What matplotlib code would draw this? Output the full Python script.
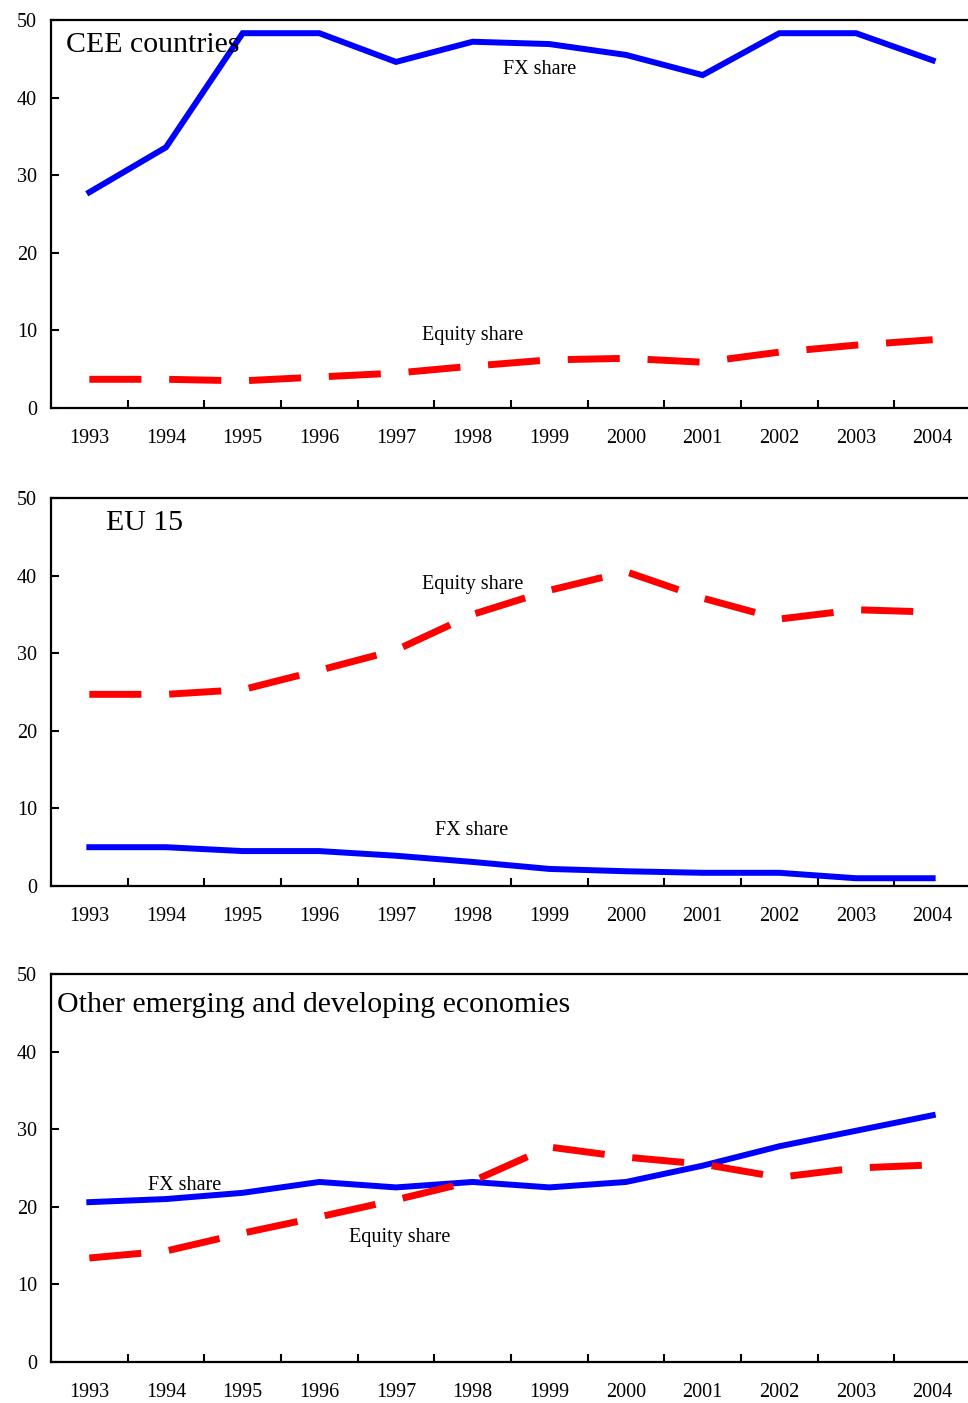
import matplotlib
matplotlib.use("Agg")
import matplotlib.pyplot as plt

years = ["1993", "1994", "1995", "1996", "1997", "1998",
         "1999", "2000", "2001", "2002", "2003", "2004"]

cee_fx = [27.8, 33.6, 48.3, 48.3, 44.6, 47.2, 46.9, 45.5, 42.9, 48.3, 48.3, 44.8]
cee_equity = [3.7, 3.7, 3.5, 4.0, 4.5, 5.4, 6.2, 6.4, 5.9, 7.2, 8.1, 8.8]

eu_fx = [5.0, 5.0, 4.5, 4.5, 3.9, 3.1, 2.2, 1.9, 1.7, 1.7, 1.0, 1.0]
eu_equity = [24.7, 24.7, 25.3, 27.8, 30.4, 35.0, 38.1, 40.5, 37.1, 34.4, 35.6, 35.3]

other_fx = [20.6, 21.0, 21.8, 23.2, 22.5, 23.2, 22.5, 23.2, 25.3, 27.8, 29.8, 31.8]
other_equity = [13.4, 14.3, 16.6, 18.7, 20.9, 23.3, 27.7, 26.4, 25.5, 23.8, 25.0, 25.4]

plt.rcParams['font.family'] = ['Liberation Serif', 'DejaVu Serif']

fig = plt.figure(figsize=(9.68, 14.03), dpi=100)

left = 51 / 968
width = 920 / 968
height = 388 / 1403
bottoms = [1 - 408 / 1403, 1 - 886 / 1403, 1 - 1362 / 1403]


def draw_panel(ax, fx, equity):
    x = range(len(years))
    ax.plot(x, fx, color='#0000ff', lw=4.3, solid_joinstyle='miter')
    ax.plot(x, equity, color='#ff0000', lw=5, dashes=(7.5, 4),
            dash_capstyle='butt')
    ax.set_xlim(-0.5, len(years) - 0.5)
    ax.set_ylim(0, 50)
    ax.set_yticks([0, 10, 20, 30, 40, 50])
    ax.set_xticks([i + 0.5 for i in range(len(years) - 1)])
    ax.set_xticklabels([])
    ax.set_xticks(list(x), minor=True)
    ax.set_xticklabels(years, minor=True)
    ax.tick_params(axis='x', which='major', direction='in', length=6,
                   width=1.5)
    ax.tick_params(axis='x', which='minor', length=0, pad=15, labelsize=14.5)
    ax.tick_params(axis='y', direction='in', length=6, width=1.5,
                   pad=10, labelsize=14.5)
    for s in ['left', 'top', 'bottom']:
        ax.spines[s].set_linewidth(1.6)
    ax.spines['right'].set_visible(False)


ax1 = fig.add_axes([left, bottoms[0], width, height])
draw_panel(ax1, cee_fx, cee_equity)
ax1.text(-0.3, 46.8, "CEE countries", fontsize=21.5, va='center', ha='left')
ax1.text(5.87, 43.6, "FX share", fontsize=14.5, va='center', ha='center')
ax1.text(5.0, 9.3, "Equity share", fontsize=14.5, va='center', ha='center')

ax2 = fig.add_axes([left, bottoms[1], width, height])
draw_panel(ax2, eu_fx, eu_equity)
ax2.text(0.22, 46.8, "EU 15", fontsize=21.5, va='center', ha='left')
ax2.text(5.0, 38.8, "Equity share", fontsize=14.5, va='center', ha='center')
ax2.text(4.99, 7.2, "FX share", fontsize=14.5, va='center', ha='center')

ax3 = fig.add_axes([left, bottoms[2], width, height])
draw_panel(ax3, other_fx, other_equity)
ax3.text(-0.42, 46.0, "Other emerging and developing economies",
         fontsize=21.5, va='center', ha='left')
ax3.text(1.24, 22.7, "FX share", fontsize=14.5, va='center', ha='center')
ax3.text(4.05, 16.0, "Equity share", fontsize=14.5, va='center', ha='center')

fig.savefig("out.png", dpi=100)
